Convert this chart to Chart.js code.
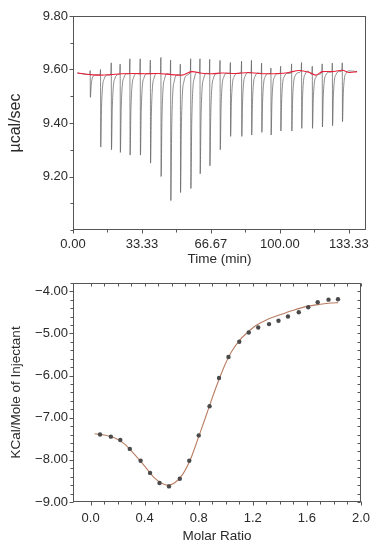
<!DOCTYPE html>
<html><head><meta charset="utf-8">
<script src="https://cdn.jsdelivr.net/npm/chart.js@4.4.0/dist/chart.umd.min.js"></script>
<style>
html,body{margin:0;padding:0;background:#fff;width:379px;height:550px;overflow:hidden}
#c1{position:absolute;left:0;top:0}
#c2{position:absolute;left:0;top:270px}
</style></head><body>
<canvas id="c1" width="379" height="275"></canvas>
<canvas id="c2" width="379" height="280"></canvas>
<script>
// ---------- Top panel: raw thermogram ----------
const injectionTimes = [8.4, 13.4, 18.6, 22.9, 27.6, 32.6, 37.5, 42.6, 47.3, 52.0, 57.0, 61.5, 66.2,
  71.2, 76.2, 81.6, 86.4, 91.3, 95.8, 100.5, 105.8, 110.6, 115.8, 120.6, 125.5, 130.3];
const injectionUpPeaks = [9.596, 9.600, 9.625, 9.620, 9.640, 9.640, 9.635, 9.645, 9.635, 9.620, 9.640, 9.640, 9.638,
  9.634, 9.626, 9.631, 9.634, 9.624, 9.605, 9.612, 9.621, 9.626, 9.612, 9.621, 9.624, 9.625];
const injectionDepths = [9.496, 9.31, 9.30, 9.29, 9.28, 9.28, 9.25, 9.20, 9.11, 9.14, 9.155, 9.21, 9.24,
  9.30, 9.35, 9.35, 9.355, 9.365, 9.355, 9.37, 9.37, 9.38, 9.38, 9.385, 9.39, 9.405];
const rawBaseline = [9.581, 9.579, 9.581, 9.584, 9.585, 9.584, 9.585, 9.585, 9.581, 9.579, 9.590, 9.586, 9.584,
  9.586, 9.585, 9.588, 9.587, 9.585, 9.584, 9.585, 9.588, 9.594, 9.582, 9.590, 9.592, 9.595];
const traceStartEnd = [[2.1, 9.587], [137.3, 9.592]];

const baselineTimes = [2.1, 8.6, 13.5, 18.4, 23.3, 29.8, 34.7, 41.2, 47.7, 52.6, 57.4, 62.3, 67.1, 72.0,
  78.5, 84.9, 89.8, 94.6, 99.5, 104.3, 109.2, 114.0, 117.3, 120.6, 125.4, 130.3, 133.5, 137.3];
const baselineValues = [9.587, 9.581, 9.579, 9.581, 9.584, 9.585, 9.584, 9.585, 9.581, 9.579, 9.592, 9.586, 9.584, 9.587,
  9.585, 9.589, 9.585, 9.584, 9.585, 9.589, 9.596, 9.590, 9.579, 9.592, 9.592, 9.597, 9.589, 9.592];

const timeTickLabels = ['0.00', '33.33', '66.67', '100.00', '133.33'];
const powerTickLabels = ['9.20', '9.40', '9.60', '9.80'];

// ---------- Bottom panel: integrated heats ----------
const molarRatio = [0.07, 0.15, 0.22, 0.29, 0.37, 0.44, 0.51, 0.58, 0.66, 0.73, 0.80, 0.88, 0.95,
  1.02, 1.10, 1.17, 1.24, 1.32, 1.39, 1.46, 1.54, 1.61, 1.68, 1.76, 1.83];
const heatPerInjection = [-7.40, -7.45, -7.53, -7.74, -8.02, -8.31, -8.55, -8.63, -8.45, -8.02, -7.42, -6.73, -6.06,
  -5.56, -5.20, -4.98, -4.86, -4.78, -4.70, -4.60, -4.50, -4.38, -4.26, -4.20, -4.19];
const fitRatio = [0.03, 0.10, 0.18, 0.25, 0.32, 0.40, 0.47, 0.53, 0.57, 0.62, 0.68, 0.74, 0.80, 0.86, 0.92, 0.98,
  1.04, 1.10, 1.16, 1.22, 1.30, 1.40, 1.50, 1.60, 1.70, 1.78, 1.83];
const fitHeat = [-7.38, -7.41, -7.48, -7.62, -7.85, -8.15, -8.42, -8.56, -8.60, -8.55, -8.35, -7.98, -7.45, -6.90, -6.35, -5.85,
  -5.45, -5.17, -4.98, -4.82, -4.68, -4.56, -4.45, -4.36, -4.31, -4.28, -4.27];

const heatTickLabels = ['\u22129.00', '\u22128.00', '\u22127.00', '\u22126.00', '\u22125.00', '\u22124.00'];
const ratioTickLabels = ['0.0', '0.4', '0.8', '1.2', '1.6', '2.0'];

// ---------- styles ----------
const FONT = '"Liberation Sans", Arial, sans-serif';
const TEXT = '#2a2a2a';
const AXIS = '#555';
// spike drawing shape: [time offset (min), fraction of depth remaining]
const recoveryShape = [[0.4, 0.45], [0.9, 0.16], [1.7, 0.05], [3.0, 0]];

// build thermogram trace from read arrays
const rawTrace = [{x: traceStartEnd[0][0], y: traceStartEnd[0][1]}];
injectionTimes.forEach((t, i) => {
  const b = rawBaseline[i], d = injectionDepths[i];
  rawTrace.push({x: t - 0.3, y: b});
  rawTrace.push({x: t - 0.1, y: injectionUpPeaks[i]});
  rawTrace.push({x: t, y: d});
  recoveryShape.forEach(([dt, f]) => rawTrace.push({x: t + dt, y: b - (b - d) * f}));
});
rawTrace.push({x: traceStartEnd[1][0], y: traceStartEnd[1][1]});
const baselineTrace = baselineTimes.map((t, i) => ({x: t, y: baselineValues[i]}));

const framePlugin = {
  id: 'frame',
  afterDatasetsDraw(chart, args, opts) {
    const {ctx, chartArea} = chart;
    const L = Math.round(chartArea.left) + 0.5, R = Math.round(chartArea.right) - 0.5;
    const T = Math.round(chartArea.top) + 0.5, B = Math.round(chartArea.bottom) - 0.5;
    ctx.save();
    ctx.strokeStyle = AXIS; ctx.lineWidth = 1;
    ctx.strokeRect(L, T, R - L, B - T);
    ctx.beginPath();
    const xs = chart.scales.x, ys = chart.scales.y;
    xs.ticks.forEach(t => {
      if (t.value < 0) return;
      const p = Math.round(xs.getPixelForValue(t.value)) + 0.5;
      const len = t.label !== '' ? 4 : 3;
      ctx.moveTo(p, B); ctx.lineTo(p, B + len);
      if (opts.mirror) { ctx.moveTo(p, T); ctx.lineTo(p, T + 3); }
    });
    ys.ticks.forEach(t => {
      const p = Math.round(ys.getPixelForValue(t.value)) + 0.5;
      const len = t.label !== '' ? 4 : 3;
      ctx.moveTo(L, p); ctx.lineTo(L - len, p);
      if (opts.mirror) { ctx.moveTo(R, p); ctx.lineTo(R - 3, p); }
    });
    ctx.stroke();
    ctx.restore();
  }
};

const tickFont = {family: FONT, size: 13};
const titleFont = {family: FONT, size: 13.5};
const baseOpts = {
  responsive: false, animation: false, events: [],
  plugins: {legend: {display: false}, tooltip: {enabled: false}, title: {display: false}}
};

new Chart(document.getElementById('c1'), {
  type: 'scatter',
  data: {datasets: [
    {data: baselineTrace, showLine: true, borderColor: '#e8203a', borderWidth: 1.1, pointRadius: 0, tension: 0.3, order: 0},
    {data: rawTrace, showLine: true, borderColor: '#5a5a5a', borderWidth: 0.7, pointRadius: 0, cubicInterpolationMode: 'monotone', order: 1}
  ]},
  options: Object.assign({}, baseOpts, {
    layout: {padding: {top: 16, right: 13, left: 0, bottom: 0}},
    plugins: Object.assign({}, baseOpts.plugins, {frame: {mirror: false}}),
    scales: {
      x: {type: 'linear', min: 0, max: 141.67,
        grid: {display: false, drawTicks: false}, border: {display: false},
        ticks: {stepSize: 100 / 6, includeBounds: false, autoSkip: false, maxRotation: 0, padding: 7, font: tickFont, color: TEXT,
          callback: (v) => { const k = Math.round(v / (100 / 3)); return Math.abs(v - k * 100 / 3) < 1e-3 ? timeTickLabels[k] : ''; }},
        title: {display: true, text: 'Time (min)', font: titleFont, color: TEXT, padding: {top: 0, bottom: 8}},
        afterFit: (s) => { s.height = 45; }
      },
      y: {type: 'linear', min: 9.0, max: 9.8,
        grid: {display: false, drawTicks: false}, border: {display: false},
        ticks: {stepSize: 0.1, includeBounds: false, autoSkip: false, padding: 5, font: tickFont, color: TEXT,
          callback: (v) => { const k = Math.round((v - 9.2) / 0.2); return (k >= 0 && Math.abs(v - 9.2 - k * 0.2) < 1e-6) ? powerTickLabels[k] : ''; }},
        title: {display: true, text: '\u00b5cal/sec', font: {family: FONT, size: 16}, color: TEXT, padding: {top: 6, bottom: 0}},
        afterFit: (s) => { s.width = 73; }
      }
    }
  }),
  plugins: [framePlugin]
});

new Chart(document.getElementById('c2'), {
  type: 'scatter',
  data: {datasets: [
    {data: molarRatio.map((x, i) => ({x, y: heatPerInjection[i]})), pointRadius: 2.2, pointBackgroundColor: '#4a4a4a', pointBorderWidth: 0, showLine: false, order: 0},
    {data: fitRatio.map((x, i) => ({x, y: fitHeat[i]})), showLine: true, borderColor: '#b97d62', borderWidth: 1.1, pointRadius: 0, cubicInterpolationMode: 'monotone', order: 1}
  ]},
  options: Object.assign({}, baseOpts, {
    layout: {padding: {top: 7, right: 13, left: 0, bottom: 0}},
    plugins: Object.assign({}, baseOpts.plugins, {frame: {mirror: true}}),
    scales: {
      x: {type: 'linear', min: -0.13, max: 2.0,
        grid: {display: false, drawTicks: false}, border: {display: false},
        ticks: {stepSize: 0.1, includeBounds: false, autoSkip: false, maxRotation: 0, padding: 9, font: tickFont, color: TEXT,
          callback: (v) => { const k = Math.round(v * 10); return (v >= -1e-9 && k % 4 === 0) ? ratioTickLabels[k / 4] : ''; }},
        title: {display: true, text: 'Molar Ratio', font: titleFont, color: TEXT, padding: {top: 0, bottom: 5.5}},
        afterFit: (s) => { s.height = 48; }
      },
      y: {type: 'linear', min: -9.0, max: -3.8,
        grid: {display: false, drawTicks: false}, border: {display: false},
        ticks: {stepSize: 0.2, includeBounds: false, autoSkip: false, padding: 5, font: tickFont, color: TEXT,
          callback: (v) => { const k = Math.round(v + 9); return Math.abs(v + 9 - k) < 1e-6 ? heatTickLabels[k] : ''; }},
        title: {display: true, text: 'KCal/Mole of Injectant', font: titleFont, color: TEXT, padding: {top: 8, bottom: 0}},
        afterFit: (s) => { s.width = 73; }
      }
    }
  }),
  plugins: [framePlugin]
});
</script>
</body></html>
